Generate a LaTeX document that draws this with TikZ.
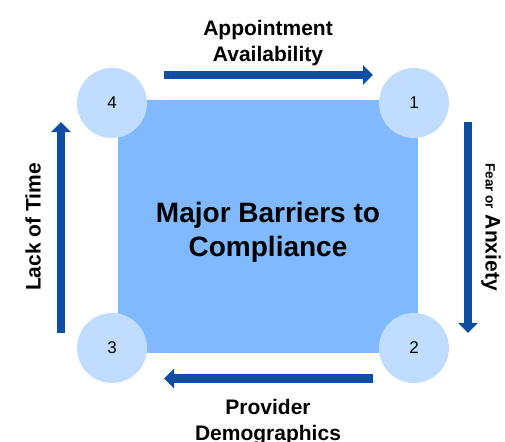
\documentclass[tikz,border=0pt]{standalone}
\usepackage{fontspec}
\setmainfont{Liberation Sans}
\usepackage{tikz}
\usetikzlibrary{arrows.meta,shapes,positioning}
\definecolor{boxblue}{HTML}{80B9FD}
\definecolor{stageblue}{HTML}{C0DDFF}
\definecolor{flowblue}{HTML}{0D4EA2}
\tikzstyle{barrier}=[
	rectangle,
	fill=boxblue,
	minimum width=300pt,
	minimum height=253pt,
	inner sep=0pt,
	align=center,
	font=\fontsize{28}{34}\selectfont\bfseries
]
\tikzstyle{stage}=[
	circle,
	fill=stageblue,
	minimum size=70pt,
	inner sep=0pt,
	font=\fontsize{17}{20}\selectfont
]
\tikzstyle{flow}=[
	-{Triangle[width=19pt,length=10pt]},
	line width=8.5pt,
	draw=flowblue
]
\tikzstyle{tlabel}=[
	align=center,
	inner sep=0pt,
	font=\fontsize{21}{26}\selectfont\bfseries
]

\begin{document}
\begin{tikzpicture}[x=1pt,y=-1pt]
\useasboundingbox (0,0) rectangle (505,441);
\node[barrier] (box) at (268,226.5) {};
\node[stage] (c4) at (112,103) {4};
\node[stage] (c1) at (414,103) {1};
\node[stage] (c2) at (414,348) {2};
\node[stage] (c3) at (112,348) {3};
\node[align=center, font=\fontsize{28}{34}\selectfont\bfseries] (title) at (268,232) {Major Barriers to\\Compliance};

\draw[flow] ([shift={(52,-28)}]c4.center) -- ([shift={(-41,-28)}]c1.center);
\draw[flow] ([shift={(54,19)}]c1.center) -- ([shift={(54,-15)}]c2.center);
\draw[flow] ([shift={(-41,30.5)}]c2.center) -- ([shift={(52,30.5)}]c3.center);
\draw[flow] ([shift={(-51,-15)}]c3.center) -- ([shift={(-51,19)}]c4.center);

\node[tlabel] (appt) at (268,43) {Appointment\\Availability};
\node[tlabel] (prov) at (268,422) {Provider\\Demographics};
\node[tlabel, rotate=90] (time) at (33,227) {Lack of Time};
\node[tlabel, rotate=-90] (fear) at (491,227) {{\fontsize{13.5}{16}\selectfont Fear or} Anxiety};
\end{tikzpicture}
\end{document}
